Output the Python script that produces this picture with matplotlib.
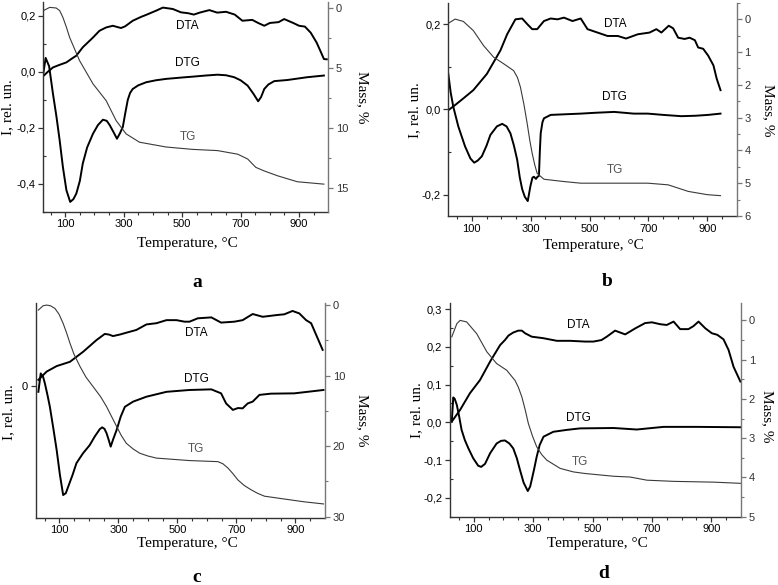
import matplotlib
matplotlib.use("Agg")
import matplotlib.pyplot as plt
from matplotlib.ticker import FuncFormatter, MultipleLocator, FixedLocator

# ---------------- data ----------------
# panel a
a_dta_t = [25, 40, 58, 80, 104, 126, 138, 160, 195, 217, 240, 263, 280, 291, 305, 331, 360, 377, 411, 434,
           468, 496, 520, 540, 560, 593, 620, 650, 680, 706, 740, 760, 781, 800, 830, 849, 880, 900, 920,
           940, 960, 975, 985, 995]
a_dta = [-0.015, 0.0, 0.016, 0.025, 0.034, 0.05, 0.058, 0.088, 0.123, 0.147, 0.159, 0.165, 0.16, 0.157,
         0.163, 0.183, 0.197, 0.204, 0.219, 0.230, 0.225, 0.213, 0.21, 0.205, 0.212, 0.221, 0.212, 0.215,
         0.205, 0.183, 0.186, 0.175, 0.165, 0.175, 0.178, 0.189, 0.175, 0.165, 0.162, 0.14, 0.105, 0.07,
         0.046, 0.045]
a_dtg_t = [25, 33, 45, 58, 70, 81, 92, 104, 117, 128, 138, 150, 160, 175, 195, 212, 229, 242, 252, 265,
           277, 287, 297, 305, 314, 322, 331, 350, 377, 410, 445, 500, 536, 580, 621, 650, 678, 700, 724,
           745, 760, 770, 781, 795, 815, 860, 928, 985]
a_dtg = [-0.006, 0.05, 0.02, -0.078, -0.16, -0.245, -0.34, -0.423, -0.465, -0.455, -0.435, -0.39, -0.328,
         -0.27, -0.221, -0.19, -0.171, -0.175, -0.19, -0.215, -0.239, -0.22, -0.197, -0.15, -0.10, -0.075,
         -0.061, -0.048, -0.037, -0.03, -0.025, -0.02, -0.017, -0.013, -0.01, -0.012, -0.019, -0.03,
         -0.049, -0.08, -0.105, -0.09, -0.061, -0.045, -0.033, -0.029, -0.019, -0.013]
a_tg_t = [25, 47, 69, 81, 92, 104, 115, 149, 195, 240, 274, 308, 354, 445, 536, 621, 690, 724, 752, 781,
          826, 894, 985]
a_tg = [0.22, -0.05, 0.0, 0.22, 0.78, 1.6, 2.45, 4.39, 6.33, 7.73, 9.39, 10.5, 11.2, 11.6, 11.8, 11.9,
        12.2, 12.6, 13.3, 13.6, 14.0, 14.5, 14.7]

# panel b
b_dta_t = [20, 43, 70, 105, 151, 197, 220, 248, 271, 288, 305, 322, 345, 368, 391, 413, 442, 470, 493,
           527, 561, 596, 624, 664, 704, 727, 744, 769, 784, 801, 823, 840, 858, 869, 886, 903, 921, 932, 945]
b_dta = [-0.002, 0.01, 0.025, 0.045, 0.083, 0.138, 0.176, 0.211, 0.213, 0.20, 0.188, 0.188, 0.207, 0.213,
         0.211, 0.215, 0.207, 0.213, 0.188, 0.18, 0.172, 0.172, 0.166, 0.176, 0.18, 0.188, 0.18, 0.196,
         0.19, 0.168, 0.165, 0.168, 0.162, 0.145, 0.142, 0.126, 0.103, 0.072, 0.045]
b_dtg_t = [20, 28, 37, 54, 77, 95, 108, 120, 134, 150, 163, 185, 203, 218, 231, 243, 254, 263, 271, 280,
           290, 299, 306, 311, 318, 323, 328, 331, 334, 340, 345, 368, 470, 520, 584, 650, 698, 750, 812,
           860, 903, 945]
b_dtg = [0.083, 0.04, 0.006, -0.04, -0.087, -0.115, -0.125, -0.12, -0.11, -0.085, -0.06, -0.04, -0.034,
         -0.04, -0.056, -0.085, -0.118, -0.16, -0.187, -0.205, -0.215, -0.18, -0.16, -0.158, -0.163,
         -0.158, -0.156, -0.1, -0.056, -0.03, -0.021, -0.013, -0.01, -0.008, -0.006, -0.01, -0.01, -0.013,
         -0.016, -0.015, -0.013, -0.01]
b_tg_t = [20, 43, 71, 105, 140, 174, 208, 242, 255, 265, 277, 288, 297, 305, 314, 322, 345, 413, 470,
          580, 698, 767, 835, 900, 945]
b_tg = [0.13, 0.0, 0.07, 0.35, 0.81, 1.16, 1.36, 1.57, 1.78, 2.07, 2.6, 3.18, 3.7, 4.09, 4.45, 4.7, 4.88,
        4.95, 5.0, 5.0, 5.0, 5.05, 5.25, 5.35, 5.38]

# panel c
c_dta_t = [29, 57, 91, 136, 181, 226, 254, 268, 282, 305, 327, 361, 395, 429, 463, 497, 524, 541, 569,
           615, 648, 693, 721, 755, 789, 840, 862, 890, 913, 936, 953, 975, 992]
c_dta = [0.02, 0.047, 0.065, 0.079, 0.112, 0.15, 0.17, 0.168, 0.163, 0.168, 0.174, 0.183, 0.201, 0.205,
         0.215, 0.215, 0.21, 0.21, 0.221, 0.224, 0.207, 0.21, 0.215, 0.235, 0.226, 0.232, 0.234, 0.245,
         0.237, 0.215, 0.205, 0.156, 0.118]
c_dtg_t = [29, 37, 45, 51, 60, 68, 80, 91, 102, 113, 122, 130, 145, 158, 180, 203, 220, 237, 245, 253,
           260, 267, 274, 282, 294, 308, 322, 350, 395, 463, 541, 615, 648, 665, 688, 705, 721, 738, 755,
           778, 817, 896, 995]
c_dtg = [-0.019, 0.041, 0.03, 0.009, -0.03, -0.068, -0.14, -0.209, -0.29, -0.356, -0.35, -0.329, -0.29,
         -0.252, -0.22, -0.193, -0.165, -0.141, -0.135, -0.14, -0.154, -0.175, -0.198, -0.175, -0.144,
         -0.1, -0.068, -0.051, -0.035, -0.019, -0.013, -0.011, -0.024, -0.057, -0.078, -0.072, -0.073,
         -0.057, -0.051, -0.029, -0.025, -0.024, -0.013]
c_tg_t = [29, 45, 57, 70, 85, 99, 113, 125, 136, 150, 170, 190, 215, 240, 260, 277, 294, 310, 327, 350,
          372, 400, 429, 541, 637, 654, 671, 688, 705, 727, 750, 772, 795, 862, 930, 995]
c_tg = [0.71, 0.1, 0.0, 0.1, 0.47, 1.3, 2.6, 4.0, 5.4, 7.0, 8.7, 10.2, 11.6, 13.0, 14.4, 15.8, 17.2, 18.5,
        19.6, 20.4, 21.0, 21.4, 21.7, 22.05, 22.2, 22.5, 23.1, 23.9, 24.8, 25.6, 26.2, 26.7, 27.1, 27.5,
        27.9, 28.2]

# panel d
d_dta_t = [26, 54, 87, 121, 155, 189, 205, 217, 233, 250, 262, 273, 295, 334, 380, 425, 475, 503, 530,
           548, 576, 610, 644, 677, 700, 728, 750, 773, 795, 823, 840, 857, 880, 902, 920, 941, 958, 975, 998]
d_dta = [0.002, 0.033, 0.077, 0.112, 0.161, 0.205, 0.218, 0.23, 0.238, 0.243, 0.243, 0.236, 0.227, 0.223,
         0.216, 0.216, 0.214, 0.214, 0.218, 0.227, 0.243, 0.233, 0.249, 0.263, 0.265, 0.26, 0.258, 0.267,
         0.247, 0.247, 0.255, 0.267, 0.249, 0.236, 0.232, 0.22, 0.192, 0.147, 0.108]
d_dtg_t = [26, 31, 36, 43, 51, 59, 70, 82, 98, 115, 125, 138, 155, 177, 192, 205, 220, 233, 245, 256, 268,
           282, 290, 295, 303, 312, 322, 335, 368, 413, 458, 571, 649, 739, 851, 998]
d_dtg = [0.002, 0.066, 0.062, 0.046, 0.015, -0.02, -0.047, -0.069, -0.095, -0.115, -0.118, -0.11,
         -0.082, -0.056, -0.049, -0.048, -0.056, -0.069, -0.095, -0.127, -0.16, -0.182, -0.17, -0.153,
         -0.125, -0.091, -0.06, -0.038, -0.025, -0.02, -0.016, -0.015, -0.019, -0.012, -0.012, -0.013]
d_tg_t = [26, 43, 54, 76, 110, 144, 177, 211, 239, 250, 262, 273, 284, 298, 312, 329, 346, 391, 436, 475,
          571, 627, 683, 773, 908, 998]
d_tg = [0.42, 0.085, 0.0, 0.04, 0.34, 0.8, 1.1, 1.27, 1.53, 1.7, 1.95, 2.27, 2.63, 2.95, 3.22, 3.42, 3.56,
        3.77, 3.86, 3.9, 3.97, 3.99, 4.07, 4.1, 4.12, 4.15]

W, H = 778, 585
fig = plt.figure(figsize=(W / 100, H / 100), dpi=100)

SANS = ['Liberation Sans', 'DejaVu Sans']
SERIF = ['Liberation Serif', 'DejaVu Serif']
GRAY = '#555555'


def comma(v, pos):
    if abs(v) < 1e-9:
        return '0,0'
    return ('%.1f' % v).replace('.', ',')


def px(x, y):
    # pixel position (from top-left) -> figure fraction
    return x / W, 1 - y / H


def panel(box, xlim, ylim, yticks, yminor, yfmt, mlim, mstep, mminor, curves, labels, txt):
    x0, y0, x1, y1 = box
    ax = fig.add_axes([x0 / W, 1 - y1 / H, (x1 - x0) / W, (y1 - y0) / H])
    ax2 = ax.twinx()

    t1, v1, t2, v2, t3, v3 = curves
    ax.plot(t1, v1, color='black', lw=1.4)
    ax.plot(t2, v2, color='black', lw=1.4)
    ax2.plot(t3, v3, color='#3a3a3a', lw=0.8)

    ax.set_xlim(*xlim)
    ax.set_ylim(*ylim)
    ax2.set_ylim(*mlim)

    ax.xaxis.set_major_locator(FixedLocator([100, 300, 500, 700, 900]))
    ax.xaxis.set_minor_locator(FixedLocator([50, 200, 400, 600, 800, 150, 250, 350, 450, 550,
                                             650, 750, 850, 950]))
    ax.yaxis.set_major_locator(FixedLocator(yticks))
    if yminor:
        ax.yaxis.set_minor_locator(MultipleLocator(yminor))
    else:
        ax.yaxis.set_minor_locator(FixedLocator([]))
    ax.yaxis.set_major_formatter(FuncFormatter(yfmt))
    ax2.yaxis.set_major_locator(MultipleLocator(mstep))
    ax2.yaxis.set_minor_locator(MultipleLocator(mminor))

    for s in ['top', 'right']:
        ax.spines[s].set_visible(False)
    ax2.spines['top'].set_visible(False)
    ax2.spines['left'].set_visible(False)
    ax2.spines['bottom'].set_visible(False)
    for s in ['left', 'bottom']:
        ax.spines[s].set_color('#333333')
        ax.spines[s].set_linewidth(1.0)
    ax2.spines['right'].set_color('#777777')
    ax2.spines['right'].set_linewidth(1.0)

    ax.tick_params(which='major', direction='out', length=3.5, width=0.9, labelsize=8, pad=2,
                   color='#333333')
    ax.tick_params(which='minor', direction='in', length=2.5, width=0.8, color='#333333')
    ax.tick_params(axis='x', which='minor', direction='out', length=2)
    ax2.tick_params(which='major', direction='out', length=3.5, width=0.9, labelsize=8, pad=2,
                    color='#777777', labelcolor='#333333')
    ax2.tick_params(which='minor', direction='out', length=2, width=0.8, color='#777777')
    for lab in ax.get_xticklabels() + ax.get_yticklabels() + ax2.get_yticklabels():
        lab.set_family(SANS)

    # curve names
    (xa, ya), (xg, yg), (xt, yt) = labels
    ax.text(xa, ya, 'DTA', ha='center', va='center', fontsize=8.5, family=SANS)
    ax.text(xg, yg, 'DTG', ha='center', va='center', fontsize=8.5, family=SANS)
    ax.text(xt, yt, 'TG', ha='center', va='center', fontsize=8.5, family=SANS, color=GRAY)

    # axis titles and panel letter
    (xl, yl, il, jl, ml, nl, ll, kl, letter) = txt
    fig.text(*px(xl, yl), 'Temperature, °C', ha='center', va='center', fontsize=11, family=SERIF)
    fig.text(*px(il, jl), 'I, rel. un.', ha='center', va='center', fontsize=11, family=SERIF,
             rotation=90)
    fig.text(*px(ml, nl), 'Mass, %', ha='center', va='center', fontsize=11, family=SERIF,
             rotation=270)
    fig.text(*px(ll, kl), letter, ha='center', va='center', fontsize=14, family=SERIF,
             fontweight='bold')
    return ax, ax2


panel((43.3, 2, 328.3, 211.7), (25, 1000), (-0.5, 0.25), [-0.4, -0.2, 0.0, 0.2], 0.1, comma,
      (17, -0.5), 5, 2.5,
      (a_dta_t, a_dta, a_dtg_t, a_dtg, a_tg_t, a_tg),
      ((519, 0.165), (519, 0.031), (519, -0.233)),
      (187, 243, 8, 107, 362, 97, 197, 282, 'a'))

panel((448.3, 2.7, 736.7, 216), (20, 1000), (-0.25, 0.25), [-0.2, 0.0, 0.2], 0.1, comma,
      (6, -0.5), 1, 0.5,
      (b_dta_t, b_dta, b_dtg_t, b_dtg, b_tg_t, b_tg),
      ((586, 0.2), (586, 0.029), (586, -0.142)),
      (593, 245, 415, 110, 768, 110, 607, 281, 'b'))

panel((35.7, 303.3, 325, 517.7), (20, 1000), (-0.43, 0.27), [0.0], None,
      lambda v, p: '0', (30.15, -0.25), 10, 5,
      (c_dta_t, c_dta, c_dtg_t, c_dtg, c_tg_t, c_tg),
      ((564, 0.172), (566, 0.022), (564, -0.207)),
      (187, 543, 9, 412, 362, 420, 197, 577, 'c'))

panel((450, 302.7, 741, 516.7), (20, 1000), (-0.25, 0.317), [-0.2, -0.1, 0.0, 0.1, 0.2, 0.3], 0.05,
      comma, (5, -0.45), 1, 0.5,
      (d_dta_t, d_dta, d_dtg_t, d_dtg, d_tg_t, d_tg),
      ((453, 0.258), (453, 0.011), (458, -0.104)),
      (597, 543, 417, 410, 767, 416, 604, 573, 'd'))

fig.savefig('out.png', dpi=100)
